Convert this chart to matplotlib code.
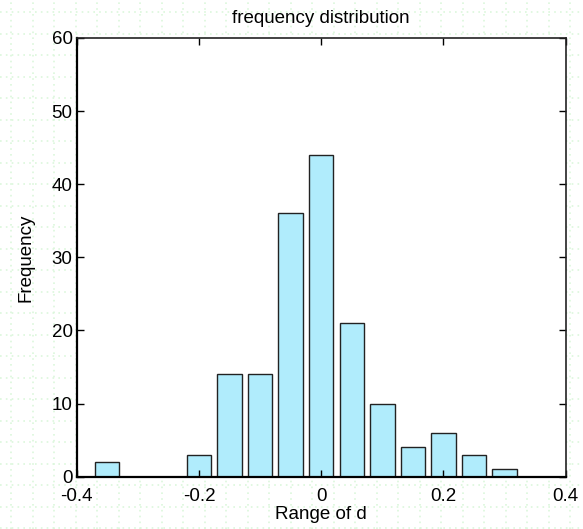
import numpy as np
import matplotlib.pyplot as plt

plt.rcParams['font.family'] = ['Liberation Sans', 'DejaVu Sans']

# histogram bins (centres) and counts
bin_centers = [-0.35, -0.30, -0.25, -0.20, -0.15, -0.10, -0.05,
               0.00, 0.05, 0.10, 0.15, 0.20, 0.25, 0.30]
counts = [2, 0, 0, 3, 14, 14, 36, 44, 21, 10, 4, 6, 3, 1]
x_ticks = [-0.4, -0.2, 0, 0.2, 0.4]
x_tick_labels = ['-0.4', '-0.2', '0', '0.2', '0.4']
y_ticks = [0, 10, 20, 30, 40, 50, 60]

W, H = 583, 529
fig = plt.figure(figsize=(W / 100, H / 100), dpi=100)

# faint dotted background grid behind the whole figure
bg = fig.add_axes([0, 0, 1, 1], zorder=0)
bg.set_xlim(0, W)
bg.set_ylim(H, 0)
bg.axis('off')
for gx in np.arange(11, W, 21.5):
    bg.axvline(gx, color='#dcf7dc', lw=1.2, ls=(0, (1, 2.5)))
for gy in np.arange(12, H, 21.5):
    bg.axhline(gy, color='#dcf7dc', lw=1.2, ls=(0, (1, 2.5)))

ax = fig.add_axes([76.7 / W, 1 - 476.7 / H, (565.7 - 76.7) / W, (476.7 - 38) / H], zorder=1)
ax.set_facecolor('white')
ax.bar(bin_centers, counts, width=0.04, color='#b0ecfc', edgecolor='#222222', linewidth=1.0)

ax.set_xlim(-0.4, 0.4)
ax.set_ylim(0, 60)
ax.set_xticks(x_ticks)
ax.set_xticklabels(x_tick_labels)
ax.set_yticks(y_ticks)
ax.tick_params(direction='in', length=5, width=1, labelsize=13.5, top=True, right=True)
ax.tick_params(axis='x', pad=8)
ax.tick_params(axis='y', pad=3)
for side in ['left', 'bottom']:
    ax.spines[side].set_linewidth(1.6)
for side in ['top', 'right']:
    ax.spines[side].set_linewidth(1.2)
    ax.spines[side].set_color('#222222')

ax.set_title('frequency distribution', fontsize=13.5, pad=11)
ax.set_xlabel('Range of d', fontsize=13.5, labelpad=1)
ax.set_ylabel('Frequency', fontsize=13.5, labelpad=12)

fig.savefig('out.png', dpi=100)
